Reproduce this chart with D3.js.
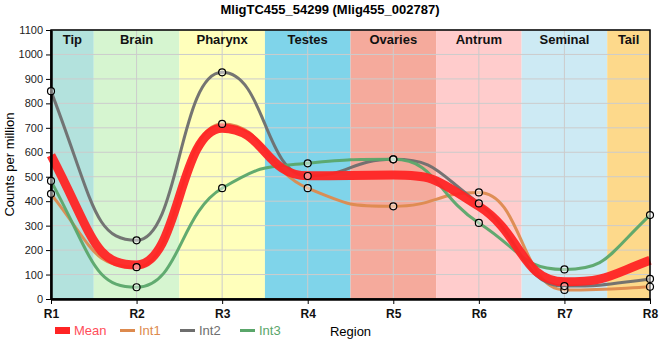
<!DOCTYPE html>
<html><head><meta charset="utf-8">
<script src="https://cdn.jsdelivr.net/npm/d3@7"></script>
<style>body{margin:0;background:#fff;font-family:"Liberation Sans",Arial,sans-serif;}</style>
</head><body><svg id="c" width="660" height="360"></svg>
<script>
const title = "MligTC455_54299 (Mlig455_002787)";
const regions = ["R1","R2","R3","R4","R5","R6","R7","R8"];
const bandNames = ["Tip","Brain","Pharynx","Testes","Ovaries","Antrum","Seminal","Tail"];
const bandColors = ["#b3e2dd","#d6f5d0","#ffffbb","#7fd4ea","#f5aa9c","#ffcccc","#cdeaf4","#fdd98b"];
const int1 = [430, 130, 716, 453, 379, 436, 37, 50];
const int2 = [850, 240, 927, 503, 571, 391, 53, 82];
const int3 = [483, 48, 453, 555, 571, 311, 121, 343];
const meanVals = int1.map((v,i)=> (v + int2[i] + int3[i]) / 3);
const yTicks = d3.range(0, 1101, 100);
const seriesNames = ["Int1","Int2","Int3"];
const seriesColors = ["#dd8a4e","#6e6e6e","#5aa66a"];
const meanColor = "#ff2424";

// monotone-slope curve with wider (half-segment) Bezier handles
function sgn(v){ return v < 0 ? -1 : 1; }
function slope3(x0,y0,x1,y1,x2,y2){
  const h0 = x1-x0, h1 = x2-x1, s0 = (y1-y0)/h0, s1 = (y2-y1)/h1, p = (s0*h1 + s1*h0)/(h0+h1);
  return (sgn(s0)+sgn(s1)) * Math.min(Math.abs(s0), Math.abs(s1), 0.5*Math.abs(p)) || 0;
}
function slope2(x0,y0,x1,y1,t){ const h = x1-x0; return h ? (3*(y1-y0)/h - t)/2 : t; }
function curveSoftMonotone(context){
  let pts = [];
  return {
    areaStart(){}, areaEnd(){},
    lineStart(){ pts = []; },
    point(x,y){ pts.push([+x,+y]); },
    lineEnd(){
      const n = pts.length; if (!n) return;
      context.moveTo(pts[0][0], pts[0][1]);
      if (n === 1) return;
      if (n === 2) { context.lineTo(pts[1][0], pts[1][1]); return; }
      const t = new Array(n);
      for (let i = 1; i < n-1; i++) t[i] = slope3(pts[i-1][0],pts[i-1][1],pts[i][0],pts[i][1],pts[i+1][0],pts[i+1][1]);
      t[0] = slope2(pts[0][0],pts[0][1],pts[1][0],pts[1][1],t[1]);
      t[n-1] = slope2(pts[n-2][0],pts[n-2][1],pts[n-1][0],pts[n-1][1],t[n-2]);
      for (let i = 0; i < n-1; i++) {
        const [x0,y0] = pts[i], [x1,y1] = pts[i+1], dx = (x1-x0)*0.5;
        context.bezierCurveTo(x0+dx, y0+dx*t[i], x1-dx, y1-dx*t[i+1], x1, y1);
      }
    }
  };
}

const svg = d3.select("#c");
const m = {l:51, r:10, t:30, b:61};
const W = 660, H = 360;
const x = d3.scalePoint().domain(regions).range([m.l, W - m.r]);
const y = d3.scaleLinear().domain([0,1100]).range([H - m.b, m.t]);
const step = x.step();

// bands
const bands = svg.append("g");
bandNames.forEach((n,i)=>{
  const cx = x(regions[i]);
  const x0 = Math.max(m.l, cx - step/2), x1 = Math.min(W - m.r, cx + step/2);
  bands.append("rect").attr("x", x0).attr("y", m.t).attr("width", x1 - x0).attr("height", y(0) - m.t).attr("fill", bandColors[i]);
});
// grid
const grid = svg.append("g").attr("stroke", "#cccccc").attr("stroke-width", 1);
yTicks.forEach(t => grid.append("line").attr("x1", m.l).attr("x2", W - m.r).attr("y1", y(t)).attr("y2", y(t)));
regions.forEach(r => grid.append("line").attr("x1", x(r)).attr("x2", x(r)).attr("y1", m.t).attr("y2", y(0)));
// band labels
bandNames.forEach((n,i)=>{
  const cx = x(regions[i]);
  const x0 = Math.max(m.l, cx - step/2), x1 = Math.min(W - m.r, cx + step/2);
  svg.append("text").attr("x", (x0 + x1)/2).attr("y", m.t + 14).attr("text-anchor","middle")
    .attr("font-weight","bold").attr("font-size", 13).attr("fill","#111").text(n);
});

const line = d3.line().x((d,i)=>x(regions[i])).y(d=>y(d)).curve(curveSoftMonotone);
const plot = svg.append("g");
[int1,int2,int3].forEach((s,i)=>{
  plot.append("path").attr("d", line(s)).attr("fill","none").attr("stroke", seriesColors[i]).attr("stroke-width", 3).attr("stroke-opacity", 0.95);
});
plot.append("path").attr("d", line(meanVals)).attr("fill","none").attr("stroke", meanColor).attr("stroke-width", 9).attr("stroke-opacity", 0.95);

// frame
svg.append("rect").attr("x", m.l).attr("y", m.t).attr("width", W - m.r - m.l).attr("height", y(0) - m.t)
  .attr("fill","none").attr("stroke","#000").attr("stroke-width",1.5);
// axes
const ya = svg.append("g").attr("transform", `translate(${m.l},0)`)
  .call(d3.axisLeft(y).tickValues(yTicks).tickFormat(d3.format("d")).tickSize(5).tickSizeOuter(0));
ya.select(".domain").attr("stroke-width", 2.5);
ya.selectAll("text").attr("font-size", 11).attr("fill","#222").attr("font-family","Liberation Sans, Arial, sans-serif");
const xa = svg.append("g").attr("transform", `translate(0,${y(0)})`)
  .call(d3.axisBottom(x).tickSize(5).tickSizeOuter(0));
xa.select(".domain").attr("stroke-width", 2.5);
xa.selectAll("text").attr("font-size", 12).attr("font-weight","bold").attr("fill","#111").attr("dy","0.9em").attr("font-family","Liberation Sans, Arial, sans-serif");

// markers
[int1,int2,int3].forEach((s,i)=>{
  s.forEach((v,j)=>{
    svg.append("circle").attr("cx", x(regions[j])).attr("cy", y(v)).attr("r", 3.5)
      .attr("fill","rgba(255,255,255,0.45)").attr("stroke","#000").attr("stroke-width",1.2);
  });
});

// title and labels
svg.append("text").attr("x", 330).attr("y", 14).attr("text-anchor","middle").attr("font-weight","bold").attr("font-size", 13).text(title);
svg.append("text").attr("transform", `translate(14,${(m.t + y(0))/2}) rotate(-90)`).attr("text-anchor","middle").attr("font-size", 13).text("Counts per million");
svg.append("text").attr("x", (m.l + W - m.r)/2).attr("y", 336).attr("text-anchor","middle").attr("font-size", 13).text("Region");

// legend
const lg = svg.append("g");
lg.append("rect").attr("x", 55).attr("y", 327).attr("width", 15).attr("height", 7).attr("fill", meanColor);
lg.append("text").attr("x", 74).attr("y", 335).attr("font-size", 13).attr("fill","#ff4d5a").text("Mean");
const lx = [120, 180, 240];
seriesNames.forEach((n,i)=>{
  lg.append("line").attr("x1", lx[i]).attr("x2", lx[i] + 15).attr("y1", 330.5).attr("y2", 330.5).attr("stroke", seriesColors[i]).attr("stroke-width", 3);
  lg.append("text").attr("x", lx[i] + 19).attr("y", 335).attr("font-size", 13).attr("fill", seriesColors[i]).text(n);
});
</script></body></html>
